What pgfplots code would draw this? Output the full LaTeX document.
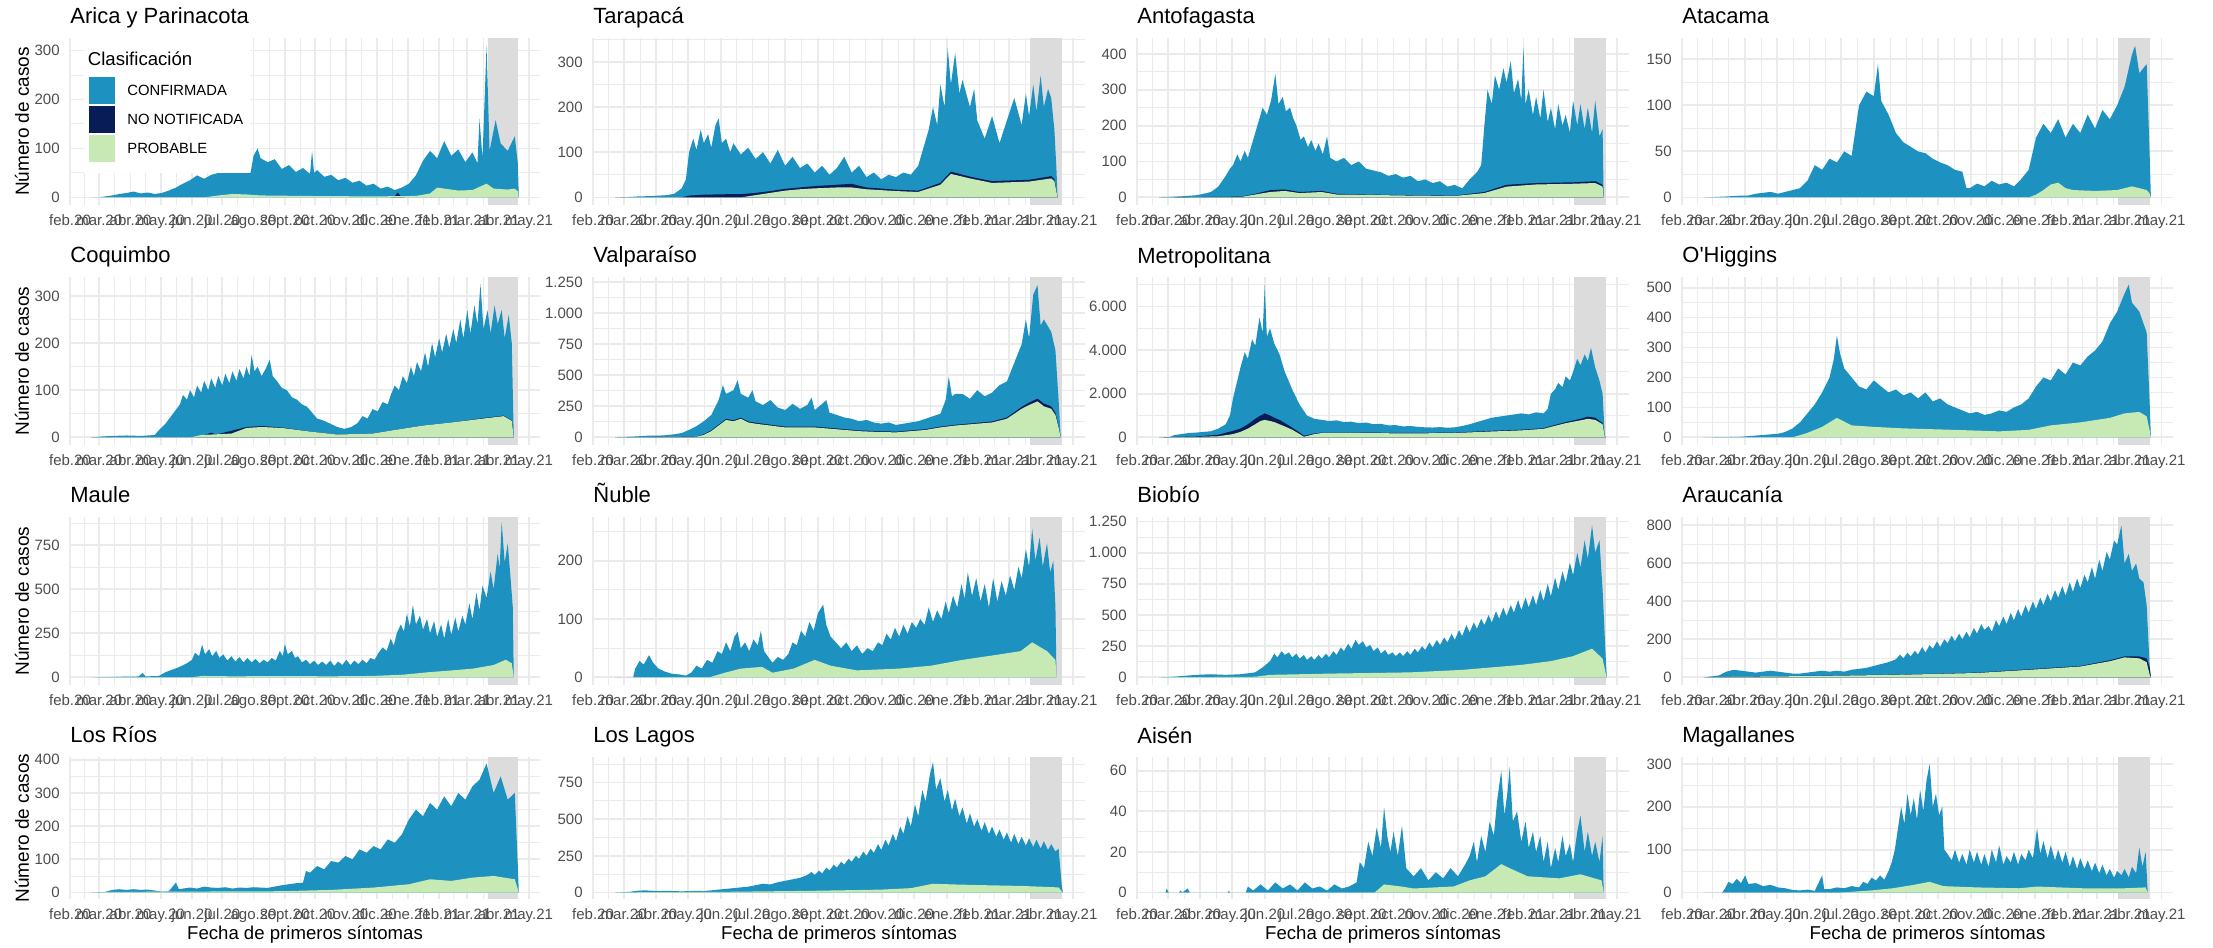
\documentclass[border=0pt]{standalone}
\usepackage{fontspec}
\setmainfont{Liberation Sans}
\usepackage{pgfplots}
\pgfplotsset{compat=1.18}

\definecolor{conf}{HTML}{1D91C0}
\definecolor{nonot}{HTML}{081D58}
\definecolor{prob}{HTML}{C7E9B4}
\definecolor{gridc}{HTML}{EBEBEB}
\definecolor{shadec}{HTML}{DCDCDC}
\definecolor{tickc}{HTML}{4D4D4D}

\pgfplotsset{
  panel/.style={
    scale only axis, anchor=south west,
    xmin=0, xmax=466,
    axis line style={draw=none},
    major tick length=0pt, minor tick length=0pt,
    grid=both,
    major grid style={draw=gridc, line width=0.9pt},
    minor grid style={draw=gridc, line width=0.45pt},
    xtick={0,29,60,90,121,151,182,213,243,274,304,335,366,394,425,455},
    xticklabels={feb.20,mar.20,abr.20,may.20,jun.20,jul.20,ago.20,sept.20,oct.20,nov.20,dic.20,ene.21,feb.21,mar.21,abr.21,may.21},
    minor xtick={14.5,44.5,75,105.5,136,166.5,197.5,228,258.5,289,319.5,350.5,380,409.5,440},
    ticklabel style={font=\fontsize{7.5}{9}\selectfont, text=tickc},
    xticklabel style={inner sep=0pt, yshift=-4.8pt},
    yticklabel style={inner sep=0pt, xshift=-5pt},
    /pgf/number format/assume math mode=true,
    /pgf/number format/1000 sep={.},
    scaled y ticks=false,
    every axis title/.style={at={(0,1)}, anchor=base west, yshift=7pt, inner sep=0pt, font=\fontsize{11}{13}\selectfont},
    every axis y label/.style={at={(-0.1021,0.5)}, rotate=90, anchor=center, inner sep=0pt, font=\fontsize{9.5}{11}\selectfont},
    every axis x label/.style={at={(0.5,-0.2535)}, anchor=center, inner sep=0pt, font=\fontsize{9.3}{11}\selectfont},
  },
  cf/.style={fill=conf, draw=none},
  nn/.style={fill=nonot, draw=none},
  pb/.style={fill=prob, draw=none},
}
% periodo sombreado (datos incompletos)
\newcommand{\periodo}[2]{%
  \addplot[fill=shadec, draw=none, forget plot] coordinates {(414,#2) (444,#2)} \closedcycle;
  \addplot[fill=shadec, draw=none, forget plot] coordinates {(414,#1) (444,#1)} \closedcycle;}

\begin{document}
\begin{tikzpicture}
\path[use as bounding box] (0,0) rectangle (1106.5pt,474pt);

% ---------------- fila 1
\begin{axis}[panel, name=a1, at={(35pt,371.5pt)}, width=235pt, height=83.5pt,
  ymin=-15.5, ymax=325.5, ytick={0,100,200,300}, minor ytick={50,150,250},
  title={Arica y Parinacota}, ylabel={Número de casos}]
\periodo{-15.5}{325.5}
\addplot[cf] coordinates {(21,0)(28,0)(35,2)(42,4)(49,7)(56,9)(63,12)(70,8)(77,10)(84,7)(91,9)(98,14)(105,20)(112,28)(119,35)(126,45)(133,38)(140,46)(147,50)(154,50)(161,50)(168,50)(175,50)(179,50)(182,85)(186,100)(189,80)(196,72)(203,78)(210,58)(217,66)(224,52)(231,60)(238,48)(240,95)(242,50)(245,56)(252,42)(259,46)(266,35)(273,40)(280,30)(287,34)(294,24)(301,28)(308,18)(315,22)(322,15)(329,20)(336,28)(343,45)(350,75)(357,95)(364,80)(371,115)(378,85)(385,98)(392,72)(399,92)(404,70)(406,160)(409,80)(413,310)(416,95)(422,158)(427,110)(434,95)(441,125)(444,70)(445,0)} \closedcycle;
\addplot[nn] coordinates {(318,0)(322,2)(325,10)(328,2)(332,0)} \closedcycle;
\addplot[pb] coordinates {(21,0)(133,0)(147,4)(161,7)(175,6)(189,4)(231,3)(301,2)(343,3)(357,8)(364,20)(371,18)(385,14)(399,15)(413,28)(420,18)(434,16)(441,18)(444,12)(445,0)} \closedcycle;
\end{axis}

\begin{axis}[panel, at={(296.5pt,371.5pt)}, width=246pt, height=83.5pt,
  ymin=-16.8, ymax=352.8, ytick={0,100,200,300}, minor ytick={50,150,250,350},
  title={Tarapacá}]
\periodo{-16.8}{352.8}
\addplot[cf] coordinates {(21,0)(35,1)(42,2)(56,3)(63,4)(70,5)(77,8)(84,20)(88,40)(91,100)(95,130)(98,105)(102,150)(105,120)(109,140)(112,110)(116,160)(119,175)(122,120)(126,130)(130,100)(133,120)(140,95)(147,110)(154,85)(161,100)(168,75)(175,105)(182,70)(189,90)(196,65)(203,75)(210,55)(217,70)(224,50)(231,65)(238,90)(245,55)(252,70)(259,45)(266,55)(273,40)(280,50)(287,45)(294,55)(301,50)(308,70)(313,110)(318,150)(322,200)(326,160)(329,250)(333,200)(336,330)(339,250)(343,320)(347,230)(350,260)(357,200)(361,240)(364,170)(371,130)(378,180)(385,120)(392,170)(399,220)(406,160)(410,230)(413,180)(417,250)(420,190)(424,270)(427,200)(431,240)(434,220)(437,150)(439,60)(440,0)} \closedcycle;
\addplot[nn] coordinates {(21,0)(84,0)(91,4)(105,6)(126,7)(140,7)(154,10)(168,14)(182,19)(196,22)(210,25)(231,28)(245,30)(259,22)(287,17)(308,15)(329,32)(339,57)(357,46)(378,36)(413,39)(434,47)(437,40)(440,0)} \closedcycle;
\addplot[pb] coordinates {(21,0)(140,0)(154,5)(168,10)(182,15)(196,18)(210,20)(231,22)(245,22)(259,18)(287,14)(308,12)(329,28)(339,52)(357,42)(378,32)(413,35)(434,42)(437,36)(440,0)} \closedcycle;
\end{axis}

\begin{axis}[panel, at={(568.5pt,371.5pt)}, width=246pt, height=83.5pt,
  ymin=-21.2, ymax=444.2, ytick={0,100,200,300,400}, minor ytick={50,150,250,350},
  title={Antofagasta}]
\periodo{-21.2}{444.2}
\addplot[cf] coordinates {(21,0)(42,3)(56,6)(63,10)(70,15)(77,30)(84,60)(88,80)(91,90)(95,120)(98,100)(102,130)(105,110)(109,150)(112,180)(116,220)(119,250)(123,230)(127,270)(131,345)(134,260)(138,280)(141,240)(145,250)(148,220)(151,200)(155,160)(158,170)(162,140)(165,160)(169,130)(172,150)(176,120)(180,170)(183,110)(189,100)(196,110)(203,90)(210,100)(217,80)(224,75)(231,70)(238,60)(245,65)(252,55)(259,60)(266,45)(273,50)(280,40)(287,45)(294,30)(301,35)(308,25)(315,50)(322,70)(326,90)(329,200)(332,300)(336,260)(339,340)(343,300)(347,360)(350,320)(354,380)(357,290)(361,330)(364,270)(366,420)(368,260)(371,300)(375,230)(378,280)(382,220)(385,300)(389,210)(392,250)(396,190)(399,260)(403,200)(406,230)(410,180)(413,270)(417,200)(420,260)(424,190)(427,250)(431,180)(434,270)(438,170)(441,190)(442,0)} \closedcycle;
\addplot[nn] coordinates {(21,0)(98,2)(112,10)(126,20)(140,22)(154,15)(175,18)(189,10)(217,8)(259,6)(301,5)(329,15)(350,35)(378,40)(413,42)(434,45)(441,35)(442,0)} \closedcycle;
\addplot[pb] coordinates {(21,0)(98,1)(112,8)(126,15)(140,18)(154,12)(175,15)(189,8)(217,7)(259,5)(301,4)(329,12)(350,30)(378,36)(413,38)(434,40)(441,30)(442,0)} \closedcycle;
\end{axis}

\begin{axis}[panel, at={(841pt,371.5pt)}, width=245.5pt, height=83.5pt,
  ymin=-8.25, ymax=173.25, ytick={0,50,100,150}, minor ytick={25,75,125},
  title={Atacama}]
\periodo{-8.25}{173.25}
\addplot[cf] coordinates {(21,0)(42,1)(56,2)(63,2)(70,4)(77,5)(84,6)(91,4)(98,6)(105,8)(112,10)(119,18)(126,35)(133,30)(140,42)(147,38)(154,50)(161,45)(168,100)(175,115)(182,110)(186,145)(189,105)(196,90)(203,70)(210,60)(217,55)(224,50)(231,48)(238,42)(245,38)(252,35)(259,30)(266,28)(270,10)(273,10)(280,15)(287,12)(294,18)(301,14)(308,16)(315,12)(322,20)(329,30)(336,65)(343,80)(350,70)(357,85)(364,65)(371,80)(378,70)(385,90)(392,75)(399,95)(406,85)(413,100)(420,120)(427,155)(430,165)(434,135)(441,145)(444,40)(445,0)} \closedcycle;
\addplot[pb] coordinates {(21,0)(329,0)(336,3)(343,8)(350,14)(357,16)(364,10)(371,8)(392,7)(413,8)(427,12)(441,8)(444,4)(445,0)} \closedcycle;
\end{axis}

% ---------------- fila 2
\begin{axis}[panel, at={(35pt,251.5pt)}, width=235pt, height=84pt,
  ymin=-16.2, ymax=340.2, ytick={0,100,200,300}, minor ytick={50,150,250},
  title={Coquimbo}, ylabel={Número de casos}]
\periodo{-16.2}{340.2}
\addplot[cf] coordinates {(21,0)(33,2)(42,3)(56,4)(70,3)(84,5)(88,15)(95,30)(102,50)(109,70)(112,90)(116,80)(119,100)(123,85)(126,110)(130,95)(133,120)(137,100)(140,125)(144,105)(147,130)(151,110)(154,135)(158,115)(161,140)(165,120)(168,145)(172,125)(175,150)(178,130)(180,175)(183,140)(186,150)(190,130)(194,145)(198,165)(201,130)(205,120)(210,105)(215,100)(220,85)(225,80)(230,70)(235,65)(239,55)(245,40)(252,35)(259,28)(265,22)(272,18)(279,22)(285,30)(290,45)(295,40)(300,60)(305,55)(310,75)(315,70)(318,90)(322,110)(326,100)(330,130)(334,115)(338,150)(341,130)(344,160)(348,140)(352,180)(355,150)(359,200)(362,170)(366,210)(369,180)(373,220)(376,190)(380,230)(383,200)(387,250)(390,210)(394,270)(397,220)(401,280)(404,240)(407,325)(410,230)(414,270)(417,220)(421,280)(424,240)(428,270)(431,210)(435,260)(438,200)(440,0)} \closedcycle;
\addplot[nn] coordinates {(21,0)(125,0)(135,6)(140,10)(145,6)(175,22)(190,24)(210,21)(239,12)(265,6)(300,8)(320,15)(350,25)(380,32)(410,41)(430,46)(438,36)(440,0)} \closedcycle;
\addplot[pb] coordinates {(21,0)(120,0)(130,5)(160,8)(175,20)(190,22)(210,20)(239,12)(265,6)(300,8)(320,15)(350,25)(380,32)(410,40)(430,45)(438,35)(440,0)} \closedcycle;
\end{axis}

\begin{axis}[panel, at={(296.5pt,251.5pt)}, width=246pt, height=84pt,
  ymin=-61.5, ymax=1291.5, ytick={0,250,500,750,1000,1250}, minor ytick={125,375,625,875,1125},
  title={Valparaíso}]
\periodo{-61.5}{1291.5}
\addplot[cf] coordinates {(21,0)(35,5)(42,8)(49,12)(56,15)(63,14)(70,18)(77,25)(84,35)(91,60)(98,90)(105,130)(112,180)(119,300)(123,420)(126,350)(133,380)(137,460)(140,350)(147,320)(151,380)(154,290)(161,260)(168,300)(175,240)(182,220)(189,270)(196,230)(203,260)(207,320)(210,220)(217,270)(221,300)(224,200)(231,180)(238,160)(245,150)(252,130)(259,140)(266,120)(273,110)(280,120)(287,100)(294,110)(301,120)(308,130)(315,150)(322,170)(329,190)(334,300)(337,490)(340,330)(343,350)(350,350)(357,310)(364,380)(371,330)(378,360)(385,420)(392,450)(399,600)(406,750)(410,950)(413,800)(417,1150)(421,1225)(424,900)(427,950)(434,850)(438,700)(441,300)(443,0)} \closedcycle;
\addplot[nn] coordinates {(21,0)(98,6)(105,25)(112,56)(119,102)(126,148)(133,138)(140,158)(147,128)(154,118)(168,102)(182,87)(196,87)(210,87)(224,77)(238,66)(252,56)(266,51)(287,46)(301,56)(315,66)(329,86)(343,101)(364,117)(378,128)(392,160)(406,245)(413,280)(421,312)(427,272)(434,250)(438,195)(441,88)(443,0)} \closedcycle;
\addplot[pb] coordinates {(21,0)(98,5)(105,20)(112,50)(119,95)(126,140)(133,130)(140,150)(147,120)(154,110)(168,95)(182,80)(196,80)(210,80)(224,70)(238,60)(252,50)(266,45)(287,40)(301,50)(315,60)(329,80)(343,95)(364,110)(378,120)(392,150)(406,230)(413,260)(421,290)(427,250)(434,230)(438,180)(441,80)(443,0)} \closedcycle;
\end{axis}

\begin{axis}[panel, at={(568.5pt,251.5pt)}, width=246pt, height=84pt,
  ymin=-350, ymax=7350, ytick={0,2000,4000,6000}, minor ytick={1000,3000,5000,7000},
  title={Metropolitana}]
\periodo{-350}{7350}
\addplot[cf] coordinates {(21,0)(31,20)(35,100)(42,150)(49,200)(56,220)(63,250)(70,280)(77,400)(84,600)(88,1000)(91,1800)(95,2600)(98,3200)(102,3900)(105,3600)(109,4500)(112,4200)(116,5500)(119,4800)(121,7000)(123,4600)(126,5000)(130,4300)(135,3800)(140,3000)(147,2200)(154,1500)(161,1000)(168,850)(175,800)(182,750)(189,780)(196,700)(203,720)(210,650)(217,680)(224,600)(231,620)(238,550)(245,560)(252,500)(259,520)(266,480)(273,460)(280,450)(287,470)(294,440)(301,460)(308,520)(315,600)(322,700)(329,800)(336,900)(343,950)(350,1000)(357,1050)(364,1100)(371,1050)(378,1150)(385,1100)(389,1300)(392,2000)(396,2200)(399,2500)(403,2300)(406,2800)(410,2600)(413,3000)(417,3600)(420,3300)(424,3800)(427,3500)(430,4100)(434,3200)(438,2600)(441,2000)(443,100)(444,0)} \closedcycle;
\addplot[nn] coordinates {(21,0)(56,40)(77,120)(91,300)(98,400)(105,600)(112,850)(117,1000)(121,1100)(126,1000)(130,900)(135,800)(140,650)(147,450)(154,220)(158,80)(161,100)(168,180)(175,220)(210,220)(259,200)(301,220)(336,300)(364,350)(385,420)(392,520)(406,700)(420,850)(427,950)(434,900)(441,650)(443,60)(444,0)} \closedcycle;
\addplot[pb] coordinates {(21,0)(56,20)(77,50)(91,150)(98,250)(105,400)(112,600)(117,750)(121,800)(126,750)(130,700)(135,600)(140,500)(147,350)(154,150)(158,30)(161,60)(168,150)(175,200)(210,200)(259,180)(301,200)(336,270)(364,320)(385,390)(392,480)(406,650)(420,780)(427,850)(434,800)(441,600)(443,50)(444,0)} \closedcycle;
\end{axis}

\begin{axis}[panel, at={(841pt,251.5pt)}, width=245.5pt, height=84pt,
  ymin=-25.5, ymax=535.5, ytick={0,100,200,300,400,500}, minor ytick={50,150,250,350,450},
  title={O\textquotesingle Higgins}]
\periodo{-25.5}{535.5}
\addplot[cf] coordinates {(21,0)(42,1)(56,2)(63,4)(70,6)(77,8)(84,10)(91,12)(98,18)(105,30)(112,50)(119,80)(126,110)(133,150)(140,200)(144,260)(147,340)(150,280)(154,230)(161,200)(168,170)(175,160)(182,190)(189,170)(196,150)(203,160)(210,140)(217,150)(224,130)(231,150)(238,120)(245,130)(252,110)(259,100)(266,90)(273,80)(280,85)(287,75)(294,80)(301,90)(308,85)(315,100)(322,110)(329,130)(336,170)(343,200)(350,190)(357,230)(364,210)(371,250)(378,240)(385,270)(392,290)(399,320)(406,380)(413,420)(420,480)(424,510)(427,450)(434,420)(441,350)(444,100)(445,0)} \closedcycle;
\addplot[pb] coordinates {(21,0)(105,0)(119,15)(133,35)(147,65)(161,40)(182,35)(210,30)(259,25)(301,20)(329,25)(350,40)(378,50)(406,65)(420,80)(434,85)(441,70)(444,20)(445,0)} \closedcycle;
\end{axis}

% ---------------- fila 3
\begin{axis}[panel, at={(35pt,131.5pt)}, width=235pt, height=84pt,
  ymin=-43.3, ymax=909.3, ytick={0,250,500,750}, minor ytick={125,375,625,875},
  title={Maule}, ylabel={Número de casos}]
\periodo{-43.3}{909.3}
\addplot[cf] coordinates {(21,0)(40,2)(55,4)(68,5)(72,25)(75,5)(88,8)(95,30)(102,45)(109,60)(116,80)(121,100)(124,140)(128,120)(131,185)(134,130)(138,160)(141,120)(145,150)(148,110)(152,130)(156,95)(160,120)(164,90)(168,115)(172,85)(176,110)(180,85)(184,105)(188,80)(192,100)(196,85)(200,110)(204,95)(208,150)(211,120)(213,190)(216,130)(220,150)(223,110)(226,120)(230,85)(234,100)(238,75)(242,95)(246,70)(250,90)(254,70)(258,95)(262,65)(266,90)(270,70)(274,100)(278,70)(282,95)(286,75)(290,100)(294,80)(298,110)(302,100)(306,140)(310,170)(314,150)(318,220)(321,180)(324,250)(328,300)(331,260)(334,360)(337,290)(340,410)(343,300)(347,350)(350,270)(354,330)(357,250)(361,320)(364,230)(368,300)(371,220)(375,330)(378,240)(382,340)(385,260)(389,350)(392,300)(396,420)(399,330)(403,480)(406,380)(409,520)(413,450)(417,600)(420,500)(424,700)(426,620)(428,880)(431,650)(434,760)(437,550)(439,400)(440,0)} \closedcycle;
\addplot[pb] coordinates {(21,0)(120,0)(131,8)(160,6)(210,7)(260,6)(300,8)(330,15)(357,30)(380,40)(400,50)(420,70)(432,100)(438,80)(440,0)} \closedcycle;
\end{axis}

\begin{axis}[panel, at={(296.5pt,131.5pt)}, width=246pt, height=84pt,
  ymin=-13.1, ymax=275.1, ytick={0,100,200}, minor ytick={50,150,250},
  title={Ñuble}]
\periodo{-13.1}{275.1}
\addplot[cf] coordinates {(21,0)(38,0)(40,15)(44,28)(48,22)(53,38)(57,25)(62,15)(68,10)(75,6)(82,5)(88,3)(93,8)(98,20)(103,15)(108,30)(113,25)(118,45)(122,40)(126,60)(130,45)(134,70)(137,78)(140,50)(144,60)(148,45)(152,65)(156,55)(159,80)(162,45)(166,35)(170,25)(175,35)(180,30)(185,40)(189,60)(193,55)(197,80)(201,70)(205,95)(209,80)(213,110)(218,125)(221,90)(225,70)(230,60)(235,50)(240,60)(245,45)(250,55)(255,40)(260,50)(265,45)(270,60)(274,55)(278,75)(282,65)(286,85)(290,70)(294,90)(298,75)(302,95)(306,85)(310,100)(314,90)(318,120)(322,95)(326,115)(330,100)(334,130)(337,110)(341,140)(345,120)(349,160)(352,135)(355,180)(359,140)(363,170)(367,130)(371,160)(375,120)(379,170)(383,130)(387,165)(391,140)(395,175)(399,150)(403,190)(406,170)(410,220)(413,190)(416,255)(419,200)(423,240)(426,190)(430,230)(433,180)(436,200)(438,120)(439,0)} \closedcycle;
\addplot[pb] coordinates {(21,0)(110,0)(125,8)(140,15)(160,18)(170,8)(190,15)(210,30)(225,20)(250,12)(290,15)(320,20)(350,30)(380,38)(405,45)(416,60)(430,45)(438,30)(439,0)} \closedcycle;
\end{axis}

\begin{axis}[panel, at={(568.5pt,131.5pt)}, width=246pt, height=84pt,
  ymin=-61.25, ymax=1286, ytick={0,250,500,750,1000,1250}, minor ytick={125,375,625,875,1125},
  title={Biobío}]
\periodo{-61.25}{1286}
\addplot[cf] coordinates {(21,0)(35,5)(42,10)(56,20)(70,25)(84,20)(98,25)(112,40)(119,80)(126,130)(130,190)(133,160)(137,210)(140,180)(144,200)(147,160)(151,190)(154,150)(158,180)(161,140)(165,170)(168,140)(172,180)(175,150)(179,190)(182,160)(186,210)(189,180)(193,240)(196,210)(200,270)(203,230)(207,300)(210,260)(214,290)(217,240)(221,260)(224,210)(228,240)(231,190)(235,220)(238,180)(242,200)(245,170)(249,200)(252,170)(256,210)(259,180)(263,230)(266,200)(270,250)(273,220)(277,280)(280,240)(284,300)(287,260)(291,320)(294,280)(298,350)(301,300)(305,380)(308,330)(312,420)(315,360)(319,440)(322,390)(326,470)(329,420)(333,500)(336,440)(340,530)(343,470)(347,560)(350,490)(354,580)(357,520)(361,620)(364,540)(368,640)(371,560)(375,660)(378,580)(382,700)(385,610)(389,750)(392,650)(396,800)(399,700)(403,850)(406,760)(410,920)(413,820)(417,1000)(420,880)(424,1100)(427,950)(431,1220)(434,1000)(438,1100)(441,700)(444,150)(445,0)} \closedcycle;
\addplot[pb] coordinates {(21,0)(112,5)(126,20)(182,30)(259,40)(308,60)(336,80)(364,100)(392,130)(413,170)(431,230)(441,150)(444,30)(445,0)} \closedcycle;
\end{axis}

\begin{axis}[panel, at={(841pt,131.5pt)}, width=245.5pt, height=84pt,
  ymin=-40.2, ymax=844.2, ytick={0,200,400,600,800}, minor ytick={100,300,500,700},
  title={Araucanía}]
\periodo{-40.2}{844.2}
\addplot[cf] coordinates {(21,0)(35,10)(42,30)(49,40)(56,35)(63,30)(70,25)(77,30)(84,35)(91,30)(98,25)(105,20)(112,20)(119,25)(126,30)(133,35)(140,30)(147,35)(154,30)(161,40)(168,45)(175,50)(182,60)(189,70)(196,80)(203,95)(207,120)(210,100)(214,130)(217,110)(221,140)(224,120)(228,160)(231,130)(235,170)(238,150)(242,190)(245,160)(249,200)(252,180)(256,220)(259,190)(263,230)(266,200)(270,240)(273,210)(277,260)(280,230)(284,280)(287,250)(291,270)(294,240)(298,300)(301,270)(305,320)(308,280)(312,340)(315,300)(319,360)(322,320)(326,380)(329,340)(333,400)(336,360)(340,420)(343,380)(347,440)(350,400)(354,460)(357,420)(361,480)(364,430)(368,500)(371,450)(375,520)(378,470)(382,540)(385,500)(389,580)(392,520)(396,620)(399,560)(403,660)(406,620)(410,720)(413,700)(417,800)(420,600)(424,650)(427,560)(431,600)(434,520)(438,500)(441,380)(444,40)(445,0)} \closedcycle;
\addplot[nn] coordinates {(21,0)(42,3)(126,8)(210,15)(280,25)(336,45)(378,60)(406,90)(420,110)(434,110)(441,100)(444,50)(445,0)} \closedcycle;
\addplot[pb] coordinates {(21,0)(42,3)(126,7)(210,14)(280,23)(336,42)(378,57)(406,85)(420,105)(434,100)(441,80)(444,10)(445,0)} \closedcycle;
\end{axis}

% ---------------- fila 4
\begin{axis}[panel, at={(35pt,24.5pt)}, width=235pt, height=71pt,
  ymin=-19.45, ymax=408.45, ytick={0,100,200,300,400}, minor ytick={50,150,250,350},
  title={Los Ríos}, ylabel={Número de casos}, xlabel={Fecha de primeros síntomas}]
\periodo{-19.45}{408.45}
\addplot[cf] coordinates {(21,0)(35,2)(42,8)(49,10)(56,8)(63,10)(70,8)(77,9)(84,6)(91,3)(98,4)(105,30)(108,10)(112,12)(119,15)(126,12)(133,18)(140,15)(147,14)(154,16)(161,12)(168,15)(175,14)(182,16)(189,15)(196,14)(203,18)(210,22)(217,25)(224,28)(231,30)(234,65)(238,60)(245,80)(252,70)(259,95)(266,90)(273,110)(280,100)(287,130)(294,120)(301,140)(308,130)(315,160)(322,150)(329,175)(336,220)(343,250)(350,230)(357,270)(364,250)(371,290)(378,260)(385,300)(392,280)(399,320)(406,340)(413,389)(420,300)(427,350)(434,280)(441,300)(444,80)(445,0)} \closedcycle;
\addplot[pb] coordinates {(21,0)(42,2)(210,4)(259,8)(301,15)(336,25)(357,40)(378,35)(399,45)(420,50)(441,40)(444,10)(445,0)} \closedcycle;
\end{axis}

\begin{axis}[panel, at={(296.5pt,24.5pt)}, width=246pt, height=71pt,
  ymin=-44, ymax=924, ytick={0,250,500,750}, minor ytick={125,375,625,875},
  title={Los Lagos}, xlabel={Fecha de primeros síntomas}]
\periodo{-44}{924}
\addplot[cf] coordinates {(21,0)(35,5)(42,12)(49,15)(56,12)(63,10)(70,12)(77,10)(84,8)(91,10)(98,12)(105,10)(112,15)(119,20)(126,25)(133,30)(140,35)(147,40)(154,50)(161,60)(168,55)(175,70)(182,80)(189,90)(196,100)(203,120)(207,140)(210,120)(214,150)(217,130)(221,170)(224,150)(228,190)(231,170)(235,210)(238,190)(242,230)(245,210)(249,250)(252,230)(256,280)(259,250)(263,300)(266,270)(270,330)(273,290)(277,360)(280,320)(284,400)(287,350)(291,450)(294,400)(298,520)(301,450)(305,600)(308,520)(312,700)(315,620)(319,800)(322,890)(325,700)(329,780)(333,620)(336,700)(340,560)(343,640)(347,520)(350,580)(354,470)(357,540)(361,450)(364,500)(368,420)(371,480)(375,400)(378,450)(382,380)(385,430)(389,360)(392,410)(396,340)(399,400)(403,330)(406,380)(410,320)(413,370)(417,310)(420,360)(424,300)(427,350)(431,290)(434,330)(438,280)(441,300)(444,50)(445,0)} \closedcycle;
\addplot[pb] coordinates {(21,0)(42,2)(126,5)(210,12)(273,20)(301,30)(322,60)(343,55)(371,50)(406,45)(441,35)(444,8)(445,0)} \closedcycle;
\end{axis}

\begin{axis}[panel, at={(568.5pt,24.5pt)}, width=246pt, height=71pt,
  ymin=-3.18, ymax=66.8, ytick={0,20,40,60}, minor ytick={10,30,50},
  title={Aisén}, xlabel={Fecha de primeros síntomas}]
\periodo{-3.18}{66.8}
\addplot[cf] coordinates {(21,0)(27,0)(28,2)(30,0)(40,0)(41,1)(43,0)(48,2)(50,0)(86,0)(87,1)(88,0)(103,0)(105,3)(110,1)(117,4)(124,1)(131,5)(138,2)(145,4)(152,1)(159,5)(166,2)(173,3)(180,1)(187,4)(194,2)(201,3)(208,5)(211,15)(215,12)(219,25)(223,18)(227,32)(231,22)(234,42)(237,28)(240,20)(243,30)(247,18)(251,33)(255,12)(262,8)(269,12)(276,6)(283,10)(290,7)(297,12)(304,8)(311,14)(315,18)(319,25)(322,15)(326,28)(330,20)(334,35)(338,28)(341,45)(345,60)(348,38)(351,50)(353,62)(356,35)(360,40)(364,25)(368,35)(371,22)(375,30)(378,20)(382,28)(385,15)(389,25)(392,12)(396,22)(399,15)(403,28)(406,18)(410,24)(413,15)(417,30)(420,38)(424,20)(427,30)(431,18)(434,25)(438,15)(441,28)(442,0)} \closedcycle;
\addplot[pb] coordinates {(21,0)(225,0)(234,4)(250,3)(262,2)(300,3)(315,6)(330,8)(345,14)(353,12)(370,8)(400,7)(420,9)(440,6)(442,0)} \closedcycle;
\end{axis}

\begin{axis}[panel, at={(841pt,24.5pt)}, width=245.5pt, height=71pt,
  ymin=-15, ymax=316, ytick={0,100,200,300}, minor ytick={50,150,250},
  title={Magallanes}, xlabel={Fecha de primeros síntomas}]
\periodo{-15}{316}
\addplot[cf] coordinates {(21,0)(38,0)(41,10)(44,25)(48,20)(52,32)(56,22)(60,40)(63,20)(70,22)(77,15)(84,18)(91,12)(98,10)(105,6)(112,5)(119,7)(126,4)(133,40)(135,8)(140,8)(147,12)(154,10)(161,15)(168,12)(172,25)(176,20)(180,35)(184,28)(188,40)(192,30)(196,50)(199,70)(202,100)(205,150)(208,200)(211,160)(214,230)(217,180)(220,220)(223,170)(226,240)(229,190)(232,260)(235,300)(238,200)(241,230)(244,180)(247,200)(249,100)(252,90)(256,75)(259,100)(263,70)(266,90)(270,65)(273,100)(277,70)(280,95)(284,65)(287,90)(291,60)(294,100)(298,70)(301,110)(305,65)(308,85)(312,70)(315,95)(319,65)(322,90)(326,75)(329,100)(333,80)(337,150)(340,90)(343,120)(347,80)(350,110)(354,75)(357,100)(361,70)(364,95)(368,60)(371,85)(375,55)(378,80)(382,55)(385,75)(389,50)(392,70)(396,45)(399,65)(403,40)(406,55)(410,35)(413,50)(417,40)(420,55)(424,35)(427,60)(431,45)(434,105)(437,60)(440,95)(442,0)} \closedcycle;
\addplot[pb] coordinates {(21,0)(150,0)(180,5)(200,10)(220,18)(235,25)(248,15)(280,12)(320,10)(337,14)(380,10)(420,10)(440,12)(442,0)} \closedcycle;
\end{axis}

% ---------------- leyenda (sobre el panel de Arica)
\fill[white] ([xshift=7pt]a1.north west) rectangle ([xshift=90pt,yshift=-67.3pt]a1.north west);
\node[anchor=west, inner sep=0pt, font=\fontsize{9.3}{11}\selectfont] at ([xshift=8.75pt,yshift=-10.3pt]a1.north west) {Clasificación};
\fill[conf]  ([xshift=9.5pt,yshift=-19.55pt]a1.north west) rectangle ++(13pt,-13.5pt);
\fill[nonot] ([xshift=9.5pt,yshift=-34.05pt]a1.north west) rectangle ++(13pt,-13.5pt);
\fill[prob]  ([xshift=9.5pt,yshift=-48.55pt]a1.north west) rectangle ++(13pt,-13.5pt);
\begin{scope}[every node/.style={anchor=west, inner sep=0pt, font=\fontsize{7.4}{9}\selectfont}]
\node at ([xshift=28.5pt,yshift=-26.3pt]a1.north west) {CONFIRMADA};
\node at ([xshift=28.5pt,yshift=-40.8pt]a1.north west) {NO NOTIFICADA};
\node at ([xshift=28.5pt,yshift=-55.3pt]a1.north west) {PROBABLE};
\end{scope}
\end{tikzpicture}
\end{document}
